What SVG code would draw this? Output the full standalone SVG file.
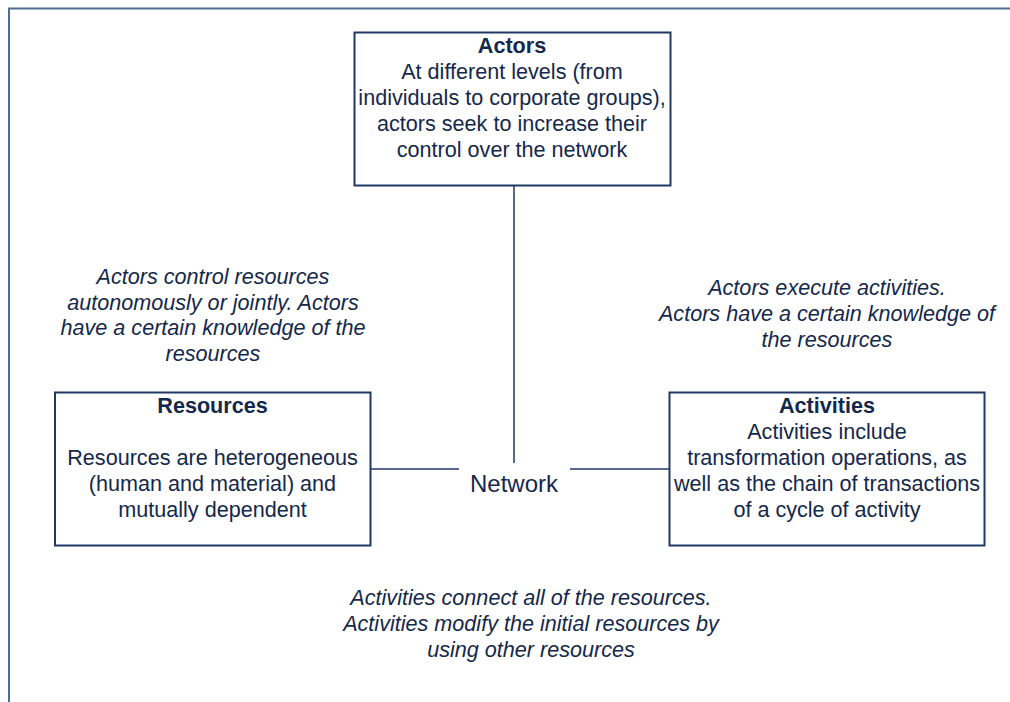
<svg xmlns="http://www.w3.org/2000/svg" width="1010" height="702" viewBox="0 0 1010 702">
<style>
text{font-family:"Liberation Sans",Arial,sans-serif;font-size:21.6px;fill:#14284b;text-anchor:middle}
.b{font-weight:bold}
.i{font-style:italic}
.box{fill:#fff;stroke:#1f3864;stroke-width:2}
.ln{stroke:#1f3864;stroke-width:1.5;fill:none}
.frame{stroke:#4f6f92;stroke-width:2;fill:none}
</style>
<rect width="1010" height="702" fill="#fff"/>
<path class="frame" d="M9,702 V8.5 H1010"/>
<g id="connectors">
<line class="ln" x1="514" y1="185" x2="514" y2="463"/>
<line class="ln" x1="370" y1="469" x2="459" y2="469"/>
<line class="ln" x1="570" y1="469" x2="669" y2="469"/>
</g>
<g id="actors">
<rect class="box" x="354.5" y="32.5" width="316" height="153"/>
<text class="b" x="512" y="52.5">Actors</text>
<text x="512" y="79">At different levels (from</text>
<text x="512" y="105">individuals to corporate groups),</text>
<text x="512" y="131">actors seek to increase their</text>
<text x="512" y="157">control over the network</text>
</g>
<g id="resources">
<rect class="box" x="55" y="392.5" width="315.5" height="153"/>
<text class="b" x="212.5" y="412.5">Resources</text>
<text x="212.5" y="465">Resources are heterogeneous</text>
<text x="212.5" y="491">(human and material) and</text>
<text x="212.5" y="517">mutually dependent</text>
</g>
<g id="activities">
<rect class="box" x="669.5" y="392.5" width="315" height="153"/>
<text class="b" x="827" y="412.5">Activities</text>
<text x="827" y="438.5">Activities include</text>
<text x="827" y="464.5">transformation operations, as</text>
<text x="827" y="490.5">well as the chain of transactions</text>
<text x="827" y="517">of a cycle of activity</text>
</g>
<g id="network">
<text x="514" y="492" style="font-size:24px">Network</text>
</g>
<g id="label-actors-resources">
<text class="i" x="213" y="284">Actors control resources</text>
<text class="i" x="213" y="309.5">autonomously or jointly. Actors</text>
<text class="i" x="213" y="335">have a certain knowledge of the</text>
<text class="i" x="213" y="360.5">resources</text>
</g>
<g id="label-actors-activities">
<text class="i" x="827" y="295">Actors execute activities.</text>
<text class="i" x="827" y="321">Actors have a certain knowledge of</text>
<text class="i" x="827" y="347">the resources</text>
</g>
<g id="label-activities-resources">
<text class="i" x="531" y="605">Activities connect all of the resources.</text>
<text class="i" x="531" y="631">Activities modify the initial resources by</text>
<text class="i" x="531" y="657">using other resources</text>
</g>
</svg>
